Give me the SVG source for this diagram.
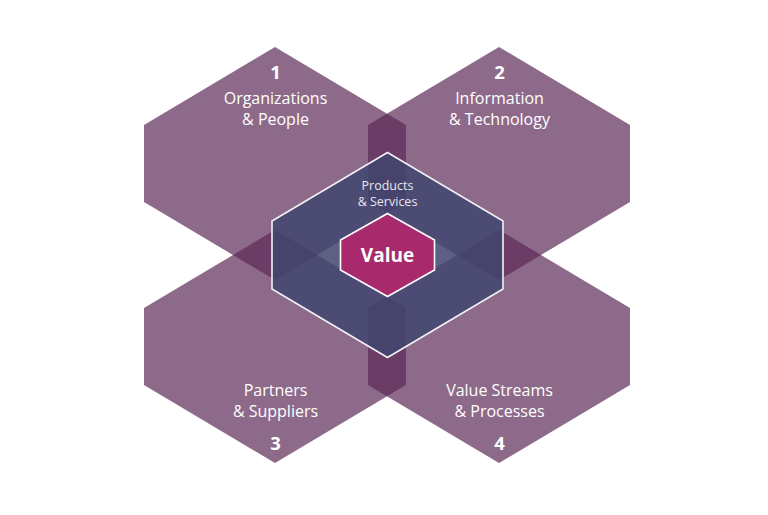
<svg xmlns="http://www.w3.org/2000/svg" width="768" height="515" viewBox="0 0 768 515">
  <style>
    .big { fill: #5b2755; fill-opacity: 0.69; }
    .core { fill: #40456e; fill-opacity: 0.85; stroke: #f2f0f4; stroke-width: 1.6; }
    .value { fill: #a82a6c; stroke: #ffffff; stroke-width: 1.6; }
    .lbl { font-family: "Open Sans", "Noto Sans", "Liberation Sans", sans-serif; fill: #ffffff; text-anchor: middle; font-size: 16px; }
    .num { font-family: "Open Sans", "Noto Sans", "Liberation Sans", sans-serif; fill: #ffffff; text-anchor: middle; font-size: 18.5px; font-weight: bold; }
    .small { font-family: "Open Sans", "Noto Sans", "Liberation Sans", sans-serif; fill: #e8e6ef; text-anchor: middle; font-size: 12.5px; }
    .vtext { font-family: "Open Sans", "Noto Sans", "Liberation Sans", sans-serif; fill: #ffffff; text-anchor: middle; font-size: 19px; font-weight: bold; }
  </style>
  <rect width="768" height="515" fill="#ffffff"/>
  <g id="node-1">
    <polygon class="big" points="275,47 406,125 406,202 275,280 144,202 144,125"/>
    <text class="num" x="275.5" y="78.5">1</text>
    <text class="lbl" x="275.5" y="104">Organizations</text>
    <text class="lbl" x="275.5" y="125">&amp; People</text>
  </g>
  <g id="node-2">
    <polygon class="big" points="499,47 630,125 630,202 499,280 368,202 368,125"/>
    <text class="num" x="499.5" y="78.5">2</text>
    <text class="lbl" x="499.5" y="103.5">Information</text>
    <text class="lbl" x="499.5" y="124.5">&amp; Technology</text>
  </g>
  <g id="node-3">
    <polygon class="big" points="275,230 406,308 406,385 275,463 144,385 144,308"/>
    <text class="lbl" x="275.5" y="396">Partners</text>
    <text class="lbl" x="275.5" y="417">&amp; Suppliers</text>
    <text class="num" x="275.5" y="449.5">3</text>
  </g>
  <g id="node-4">
    <polygon class="big" points="499,230 630,308 630,385 499,463 368,385 368,308"/>
    <text class="lbl" x="499.5" y="396">Value Streams</text>
    <text class="lbl" x="499.5" y="417">&amp; Processes</text>
    <text class="num" x="499.5" y="449.5">4</text>
  </g>
  <g id="node-products">
    <polygon class="core" points="387.5,152.5 503,221 503,289 387.5,357.5 272,289 272,221"/>
    <text class="small" x="387.5" y="189.5">Products</text>
    <text class="small" x="387.5" y="206">&amp; Services</text>
  </g>
  <g id="node-value">
    <polygon class="value" points="387.5,213.5 434.5,240 434.5,270 387.5,296.5 340.5,270 340.5,240"/>
    <text class="vtext" x="387.5" y="262">Value</text>
  </g>
  <g id="connectors"/>
</svg>
